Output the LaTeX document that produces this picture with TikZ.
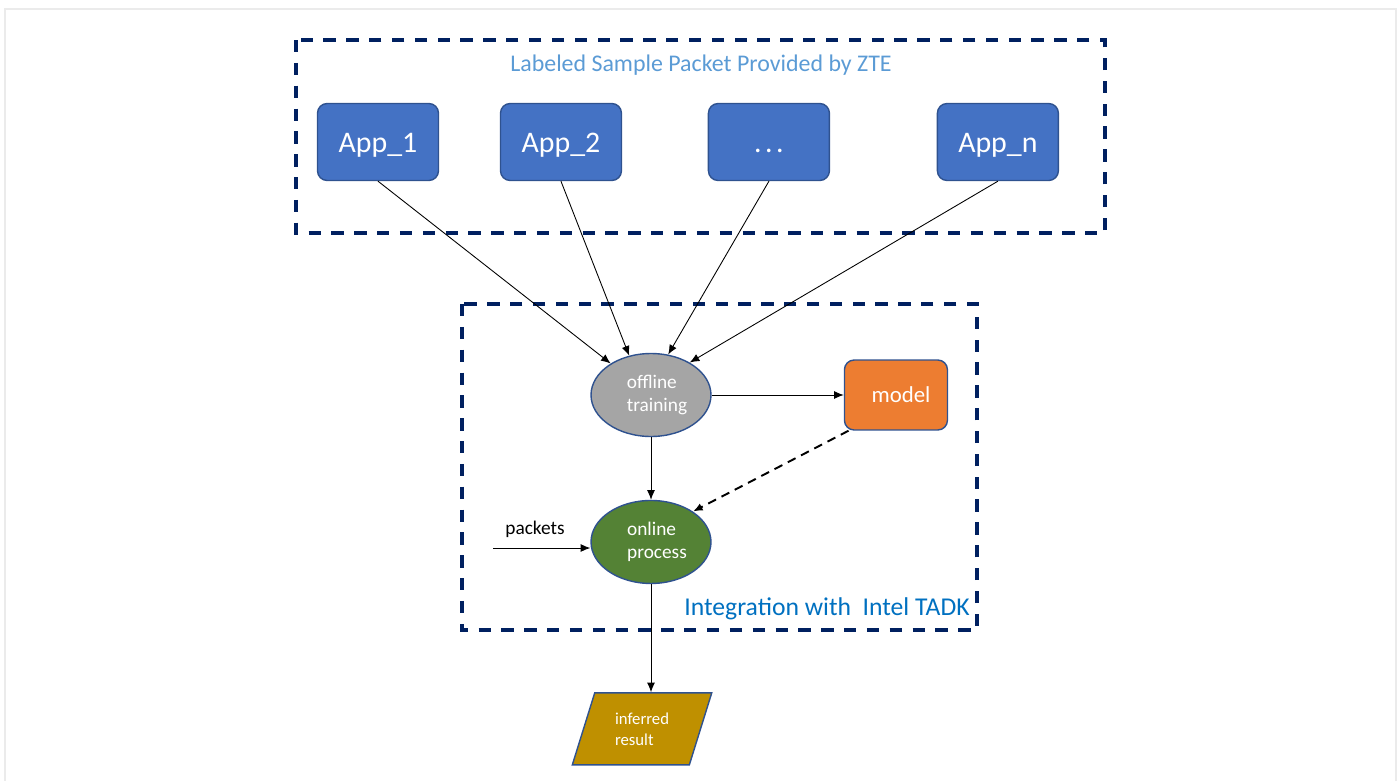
\documentclass[tikz,border=0pt]{standalone}
\usepackage{fontspec}
\setmainfont{Carlito}
\usetikzlibrary{positioning, arrows.meta}
\usetikzlibrary{shapes,shapes.geometric}
\definecolor{navy}{HTML}{002060}
\definecolor{titleblue}{HTML}{5B9BD5}
\definecolor{tadkblue}{HTML}{0070C0}
\definecolor{appblue}{HTML}{4472C4}
\definecolor{edgeblue}{HTML}{2F528F}
\definecolor{traingray}{HTML}{A5A5A5}
\definecolor{modelorange}{HTML}{ED7D31}
\definecolor{onlinegreen}{HTML}{548235}
\definecolor{resultgold}{HTML}{BF9000}
\definecolor{framegray}{HTML}{EBEBEB}
\newcommand{\ind}{\hspace*{0.24cm}}

\begin{document}
\begin{tikzpicture}[x=0.02cm,y=-0.02cm,on grid,
        >={Latex[length=5.5pt,width=4.5pt]},
        every edge/.style={draw,line width=0.5pt},
        frame/.style={draw=framegray,line width=1.2pt},
        dashbox/.style={draw=navy,line width=2.1pt,dash pattern=on 7pt off 6pt},
        app/.style={rectangle,rounded corners=5.5pt,draw=edgeblue,line width=0.8pt,fill=appblue,
            minimum width=2.42cm,minimum height=1.54cm,inner sep=0pt,text=white,
            text height=12pt,text depth=0pt,font=\fontsize{17}{20}\selectfont},
        blob/.style={ellipse,draw=edgeblue,line width=0.8pt,minimum width=2.4cm,minimum height=1.66cm,
            inner sep=0pt,text=white,align=left,font=\fontsize{11}{13.5}\selectfont},
        modelbox/.style={rectangle,rounded corners=5.5pt,draw=edgeblue,line width=0.8pt,fill=modelorange,
            minimum width=2.06cm,minimum height=1.4cm,text=white,font=\fontsize{13}{15}\selectfont},
        resultbox/.style={trapezium,trapezium stretches=true,trapezium left angle=68.7,
            trapezium right angle=111.3,draw=edgeblue,line width=0.8pt,fill=resultgold,
            minimum width=2.8cm,minimum height=1.44cm,inner sep=0pt,text=white,align=left,
            font=\fontsize{9.5}{12}\selectfont}]
        \useasboundingbox (0,0) rectangle (1399,781);
        \draw[frame] (5,781) -- (5,9) -- (1396,9) -- (1396,781);

        \draw[dashbox] (296,40) rectangle (1105,233);
        \draw[dashbox] (462,304) rectangle (977,630);

        \node[text=titleblue,font=\fontsize{13.6}{16}\selectfont] (ttl) at (701,65) {Labeled Sample Packet Provided by ZTE};
        \node[app] (app_1) at (378,142) {App\_1};
        \node[app] (app_2) [right=3.66cm of app_1] {App\_2};
        \node[app] (app_3) [right=4.16cm of app_2] {.\hspace{2pt}.\hspace{2pt}.};
        \node[app] (app_n) [right=4.58cm of app_3] {App\_n};

        \node[blob,fill=traingray] (train) at (651,395) {\ind offline\\\ind training};
        \node[modelbox] (model) [right=4.9cm of train] {\hspace*{0.2cm}model};
        \node[blob,fill=onlinegreen] (online) [below=2.94cm of train] {\ind online\\\ind process};
        \node[resultbox] (result) [below=3.74cm of online,xshift=-0.18cm] {inferred\\result};

        \coordinate (pk) at (493,548);
        \node[font=\fontsize{11}{13}\selectfont] (pklbl) at (535,529) {packets};
        \node[text=tadkblue,font=\fontsize{14.6}{18}\selectfont] (tadk) at (827,609) {Integration with\ \ Intel TADK};

        \path[->]
            (app_1.south) edge (train.142)
            (app_2.south) edge (train.119)
            (app_3.south) edge (train.67)
            (app_n.south) edge (train.40)
            (train) edge (model)
            (train) edge (online)
            (model.217) edge [dashed,line width=1.1pt,dash pattern=on 5pt off 3.5pt] (online.36)
            (pk) edge (pk -| online.west)
            (online.south) edge (online.south |- result.north)
        ;
    \end{tikzpicture}
\end{document}
